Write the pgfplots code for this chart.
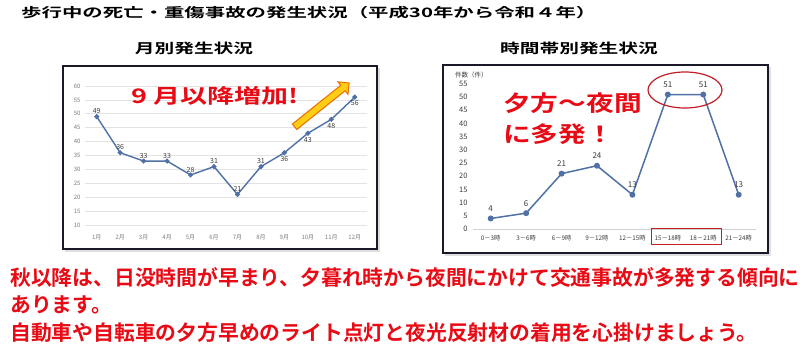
\documentclass[border=0pt]{standalone}
\usepackage{graphicx}
\usepackage{fontspec}
\setmainfont{Noto Sans CJK JP}[BoldFont={Noto Sans CJK JP Bold}]
\usepackage{pgfplots}
\usepackage{pgfplotstable}
\pgfplotsset{compat=1.18}
\usetikzlibrary{shapes.arrows}
\definecolor{lineblue}{RGB}{79,113,166}
\definecolor{txtred}{RGB}{232,10,20}
\definecolor{darkred}{RGB}{195,30,40}
\definecolor{framec}{RGB}{25,25,40}
\definecolor{tickgray}{RGB}{125,125,125}
\definecolor{lblgray}{RGB}{60,60,60}

\pgfplotstableread{
x y
1 49
2 36
3 33
4 33
5 28
6 31
7 21
8 31
9 36
10 43
11 48
12 56
}\monthly

\pgfplotstableread{
x y
1 4
2 6
3 21
4 24
5 13
6 51
7 51
8 13
}\hourly

\begin{document}
\begin{tikzpicture}[x=1pt,y=1pt]
\path[fill=white] (0,0) rectangle (800,354);

% titles
\node[anchor=west, inner sep=0] at (21,341) {\scalebox{1.57}[1]{\fontsize{13}{13}\selectfont\bfseries 歩行中の死亡・重傷事故の発生状況（平成30年から令和４年）}};
\node[inner sep=0] at (194,306) {\scalebox{1.46}[1]{\fontsize{13.5}{13.5}\selectfont\bfseries 月別発生状況}};
\node[inner sep=0] at (579,306) {\scalebox{1.46}[1]{\fontsize{13.5}{13.5}\selectfont\bfseries 時間帯別発生状況}};

% frames (shadows then borders)
\draw[gray!25, line width=1.5pt] (65,103) -- (379,103) -- (379,286);
\draw[gray!25, line width=1.5pt] (445,99) -- (770,99) -- (770,287);
\draw[framec, line width=2pt] (63,105) rectangle (377,288);
\draw[framec, line width=2pt] (443,101) rectangle (768,289);

% left chart
\begin{axis}[at={(85pt,129pt)}, anchor=south west, scale only axis,
  width=281.5pt, height=139pt,
  xmin=0.5, xmax=12.5, ymin=10, ymax=60,
  xtick={1,...,12},
  xticklabels={1月,2月,3月,4月,5月,6月,7月,8月,9月,10月,11月,12月},
  ytick={10,15,...,60},
  ymajorgrids, grid style={gray!22, line width=0.7pt},
  axis line style={draw=none}, major tick length=0pt,
  tick label style={font=\fontsize{6}{6.5}\selectfont, text=tickgray},
  /pgf/number format/assume math mode=true,
  yticklabel style={xshift=-1pt},
  xticklabel style={yshift=-6pt},
  clip=false]
\addplot[lineblue, line width=1.4pt, mark=*, mark size=1.7pt,
  mark options={fill=lineblue, draw=lineblue}] table[x=x,y=y] {\monthly};
\addplot[draw=none, mark=none, nodes near coords, point meta=y,
  skip coords between index={8}{12},
  every node near coord/.append style={anchor=south, inner sep=2.5pt,
    font=\fontsize{7}{7.5}\selectfont, text=lblgray}]
  table[x=x,y=y] {\monthly};
\addplot[draw=none, mark=none, nodes near coords, point meta=y,
  skip coords between index={0}{8},
  every node near coord/.append style={anchor=north, inner sep=3.5pt,
    font=\fontsize{7}{7.5}\selectfont, text=lblgray}]
  table[x=x,y=y] {\monthly};
\end{axis}

\node[inner sep=0, text=txtred] at (215,258) {\scalebox{1.35}[1]{\fontsize{20}{20}\selectfont\bfseries 9 月以降増加!}};
\node[single arrow, draw={rgb,255:red,235;green,110;blue,0}, fill={rgb,255:red,255;green,205;blue,20},
  line width=1pt, minimum height=70pt, minimum width=7pt, inner sep=3pt,
  single arrow head extend=4.5pt, rotate=38.7] at (320.5,248) {};

% right chart
\begin{axis}[at={(473pt,125pt)}, anchor=south west, scale only axis,
  width=283.4pt, height=145pt,
  xmin=0.5, xmax=8.5, ymin=0, ymax=55,
  xtick={1,...,8},
  xticklabels={0－3時,3－6時,6－9時,9－12時,12－15時,15－18時,18－21時,21－24時},
  ytick={0,5,...,55},
  axis line style={draw=none}, major tick length=0pt,
  tick label style={text=lblgray},
  yticklabel style={font=\fontsize{7.5}{8}\selectfont, xshift=-2pt},
  xticklabel style={font=\fontsize{6.3}{7}\selectfont, yshift=-3pt},
  /pgf/number format/assume math mode=true,
  clip=false]
\draw[gray!35, line width=0.6pt] (axis cs:0.5,0) -- (axis cs:8.5,0);
\addplot[lineblue, line width=1.5pt, mark=*, mark size=2.2pt,
  mark options={fill=lineblue, draw=lineblue},
  nodes near coords,
  every node near coord/.append style={anchor=south, inner sep=3pt, yshift=3pt,
    font=\fontsize{8}{8}\selectfont, text=lblgray}]
  table[x=x,y=y] {\hourly};
\end{axis}

\node[anchor=west, inner sep=0, text=lblgray] at (455,279) {\fontsize{6.5}{7}\selectfont 件数（件）};
\draw[darkred, line width=1.2pt] (685,264) ellipse [x radius=37, y radius=18];
\draw[darkred, line width=0.9pt] (651,110) rectangle (721,126);

\node[anchor=west, inner sep=0, text=txtred] at (503,251) {\scalebox{1.26}[1]{\fontsize{22}{22}\selectfont\bfseries 夕方～夜間}};
\node[anchor=west, inner sep=0, text=txtred] at (503,220) {\scalebox{1.26}[1]{\fontsize{22}{22}\selectfont\bfseries に多発！}};

% bottom red message
\node[anchor=west, inner sep=0, text=txtred] at (10,77) {\fontsize{20.8}{21}\selectfont\bfseries 秋以降は、日没時間が早まり、夕暮れ時から夜間にかけて交通事故が多発する傾向に};
\node[anchor=west, inner sep=0, text=txtred] at (10,49) {\fontsize{20.8}{21}\selectfont\bfseries あります。};
\node[anchor=west, inner sep=0, text=txtred] at (10,21) {\fontsize{20.8}{21}\selectfont\bfseries 自動車や自転車の夕方早めのライト点灯と夜光反射材の着用を心掛けましょう。};
\end{tikzpicture}
\end{document}
